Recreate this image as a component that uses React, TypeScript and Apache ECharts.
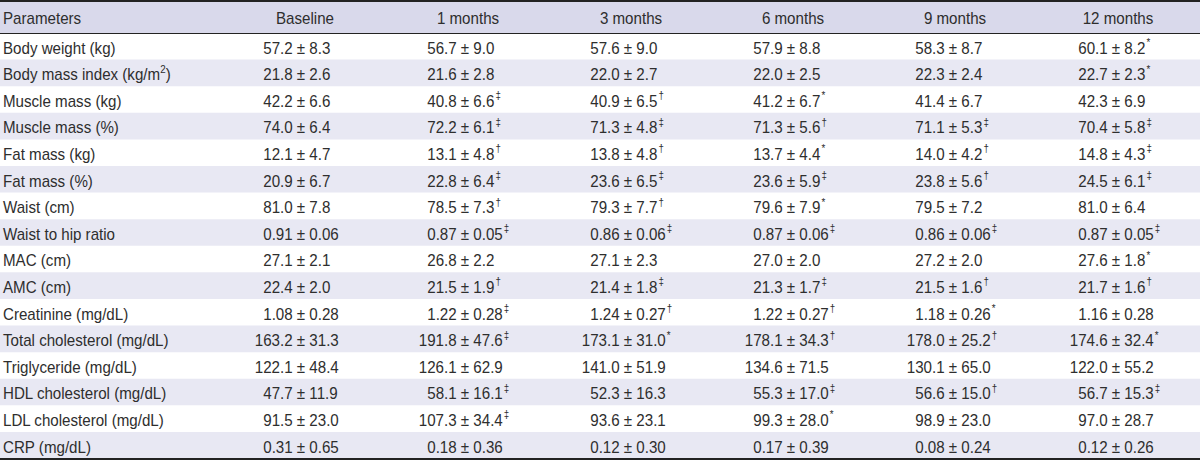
import React, { useEffect, useRef } from "react";
import * as echarts from "echarts";

const headers = ["Parameters", "Baseline", "1 months", "3 months", "6 months", "9 months", "12 months"];
const parameters = [
  "Body weight (kg)",
  "Body mass index (kg/m|2|)",
  "Muscle mass (kg)",
  "Muscle mass (%)",
  "Fat mass (kg)",
  "Fat mass (%)",
  "Waist (cm)",
  "Waist to hip ratio",
  "MAC (cm)",
  "AMC (cm)",
  "Creatinine (mg/dL)",
  "Total cholesterol (mg/dL)",
  "Triglyceride (mg/dL)",
  "HDL cholesterol (mg/dL)",
  "LDL cholesterol (mg/dL)",
  "CRP (mg/dL)",
];
// each cell: "mean|sd|mark"
const baseline = ["57.2|8.3|", "21.8|2.6|", "42.2|6.6|", "74.0|6.4|", "12.1|4.7|", "20.9|6.7|", "81.0|7.8|", "0.91|0.06|", "27.1|2.1|", "22.4|2.0|", "1.08|0.28|", "163.2|31.3|", "122.1|48.4|", "47.7|11.9|", "91.5|23.0|", "0.31|0.65|"];
const month1 = ["56.7|9.0|", "21.6|2.8|", "40.8|6.6|‡", "72.2|6.1|‡", "13.1|4.8|†", "22.8|6.4|‡", "78.5|7.3|†", "0.87|0.05|‡", "26.8|2.2|", "21.5|1.9|†", "1.22|0.28|‡", "191.8|47.6|‡", "126.1|62.9|", "58.1|16.1|‡", "107.3|34.4|‡", "0.18|0.36|"];
const month3 = ["57.6|9.0|", "22.0|2.7|", "40.9|6.5|†", "71.3|4.8|‡", "13.8|4.8|†", "23.6|6.5|‡", "79.3|7.7|†", "0.86|0.06|‡", "27.1|2.3|", "21.4|1.8|‡", "1.24|0.27|†", "173.1|31.0|*", "141.0|51.9|", "52.3|16.3|", "93.6|23.1|", "0.12|0.30|"];
const month6 = ["57.9|8.8|", "22.0|2.5|", "41.2|6.7|*", "71.3|5.6|†", "13.7|4.4|*", "23.6|5.9|‡", "79.6|7.9|*", "0.87|0.06|‡", "27.0|2.0|", "21.3|1.7|‡", "1.22|0.27|†", "178.1|34.3|†", "134.6|71.5|", "55.3|17.0|‡", "99.3|28.0|*", "0.17|0.39|"];
const month9 = ["58.3|8.7|", "22.3|2.4|", "41.4|6.7|", "71.1|5.3|‡", "14.0|4.2|†", "23.8|5.6|†", "79.5|7.2|", "0.86|0.06|‡", "27.2|2.0|", "21.5|1.6|†", "1.18|0.26|*", "178.0|25.2|†", "130.1|65.0|", "56.6|15.0|†", "98.9|23.0|", "0.08|0.24|"];
const month12 = ["60.1|8.2|*", "22.7|2.3|*", "42.3|6.9|", "70.4|5.8|‡", "14.8|4.3|‡", "24.5|6.1|‡", "81.0|6.4|", "0.87|0.05|‡", "27.6|1.8|*", "21.7|1.6|†", "1.16|0.28|", "174.6|32.4|*", "122.0|55.2|", "56.7|15.3|‡", "97.0|28.7|", "0.12|0.26|"];
const columns = [baseline, month1, month3, month6, month9, month12];

const W = 1200;
const H = 461;
const FONT = "'Liberation Sans', Arial, sans-serif";
const SX = 0.89; // horizontal condensing of the text
const LABEL_SIZE = 17;
const VALUE_SIZE = 17;
const SUP_SIZE = 11;
const TEXT_COLOR = "#2e2e2e";
const HEADER_BG = "#d9d9eb";
const ALT_BG = "#e8e8f3";
const LINE_COLOR = "#222222";

const HEADER_H = 33;
const TABLE_BOTTOM = 458.5;
const headerCenters = [305, 468, 631, 793, 955, 1118];
const pmCenters = [301, 465, 628, 791, 953, 1116];

let ctx: CanvasRenderingContext2D | null = null;
function measure(text: string, size: number): number {
  if (!ctx) ctx = document.createElement("canvas").getContext("2d")!;
  ctx.font = `${size}px ${FONT}`;
  return ctx.measureText(text).width * SX;
}

function txt(x: number, y: number, text: string, size: number, align: string) {
  return {
    type: "text",
    x,
    y,
    scaleX: SX,
    silent: true,
    style: { text, fontSize: size, fontFamily: FONT, fill: TEXT_COLOR, textAlign: align, textVerticalAlign: "middle" },
  };
}

function buildGraphics() {
  const els: any[] = [];
  const n = parameters.length;
  const rowH = (TABLE_BOTTOM - HEADER_H) / n;
  els.push({ type: "rect", shape: { x: 0, y: 0, width: W, height: HEADER_H }, style: { fill: HEADER_BG }, silent: true });
  for (let i = 0; i < n; i++) {
    if (i % 2 === 1) {
      els.push({ type: "rect", shape: { x: 0, y: HEADER_H + i * rowH, width: W, height: rowH }, style: { fill: ALT_BG }, silent: true });
    }
  }
  els.push({ type: "line", shape: { x1: 0, y1: 1, x2: W, y2: 1 }, style: { stroke: LINE_COLOR, lineWidth: 2 }, silent: true });
  els.push({ type: "line", shape: { x1: 0, y1: HEADER_H + 0.5, x2: W, y2: HEADER_H + 0.5 }, style: { stroke: LINE_COLOR, lineWidth: 1 }, silent: true });
  els.push({ type: "line", shape: { x1: 0, y1: TABLE_BOTTOM + 0.5, x2: W, y2: TABLE_BOTTOM + 0.5 }, style: { stroke: LINE_COLOR, lineWidth: 2 }, silent: true });

  const hy = HEADER_H / 2 + 1;
  els.push(txt(3, hy, headers[0], LABEL_SIZE, "left"));
  headers.slice(1).forEach((h, j) => els.push(txt(headerCenters[j], hy, h, LABEL_SIZE, "center")));

  parameters.forEach((p, i) => {
    const cy = HEADER_H + (i + 0.5) * rowH + 1;
    let x = 3;
    p.split("|").forEach((part, k) => {
      const isSup = k % 2 === 1;
      const size = isSup ? SUP_SIZE : LABEL_SIZE;
      els.push(txt(x, isSup ? cy - 5 : cy, part, size, "left"));
      x += measure(part, size);
    });
  });

  const pmW = measure("±", VALUE_SIZE);
  const gap = measure(" ", VALUE_SIZE);
  columns.forEach((col, j) => {
    const pm = pmCenters[j];
    col.forEach((cell, i) => {
      const [mean, sd, mark] = cell.split("|");
      const cy = HEADER_H + (i + 0.5) * rowH + 1;
      els.push(txt(pm - pmW / 2 - gap, cy, mean, VALUE_SIZE, "right"));
      els.push(txt(pm, cy, "±", VALUE_SIZE, "center"));
      const sdX = pm + pmW / 2 + gap;
      els.push(txt(sdX, cy, sd, VALUE_SIZE, "left"));
      if (mark) {
        els.push(txt(sdX + measure(sd, VALUE_SIZE) + 1, cy - 5, mark, SUP_SIZE, "left"));
      }
    });
  });
  return els;
}

export default function App() {
  const ref = useRef<HTMLDivElement>(null);
  useEffect(() => {
    document.body.style.margin = "0";
    if (!ref.current) return;
    const chart = echarts.init(ref.current, null, { renderer: "svg" });
    chart.setOption({
      animation: false,
      backgroundColor: "#ffffff",
      graphic: { elements: buildGraphics() },
    });
    return () => chart.dispose();
  }, []);
  return <div ref={ref} style={{ width: W, height: H }} />;
}
